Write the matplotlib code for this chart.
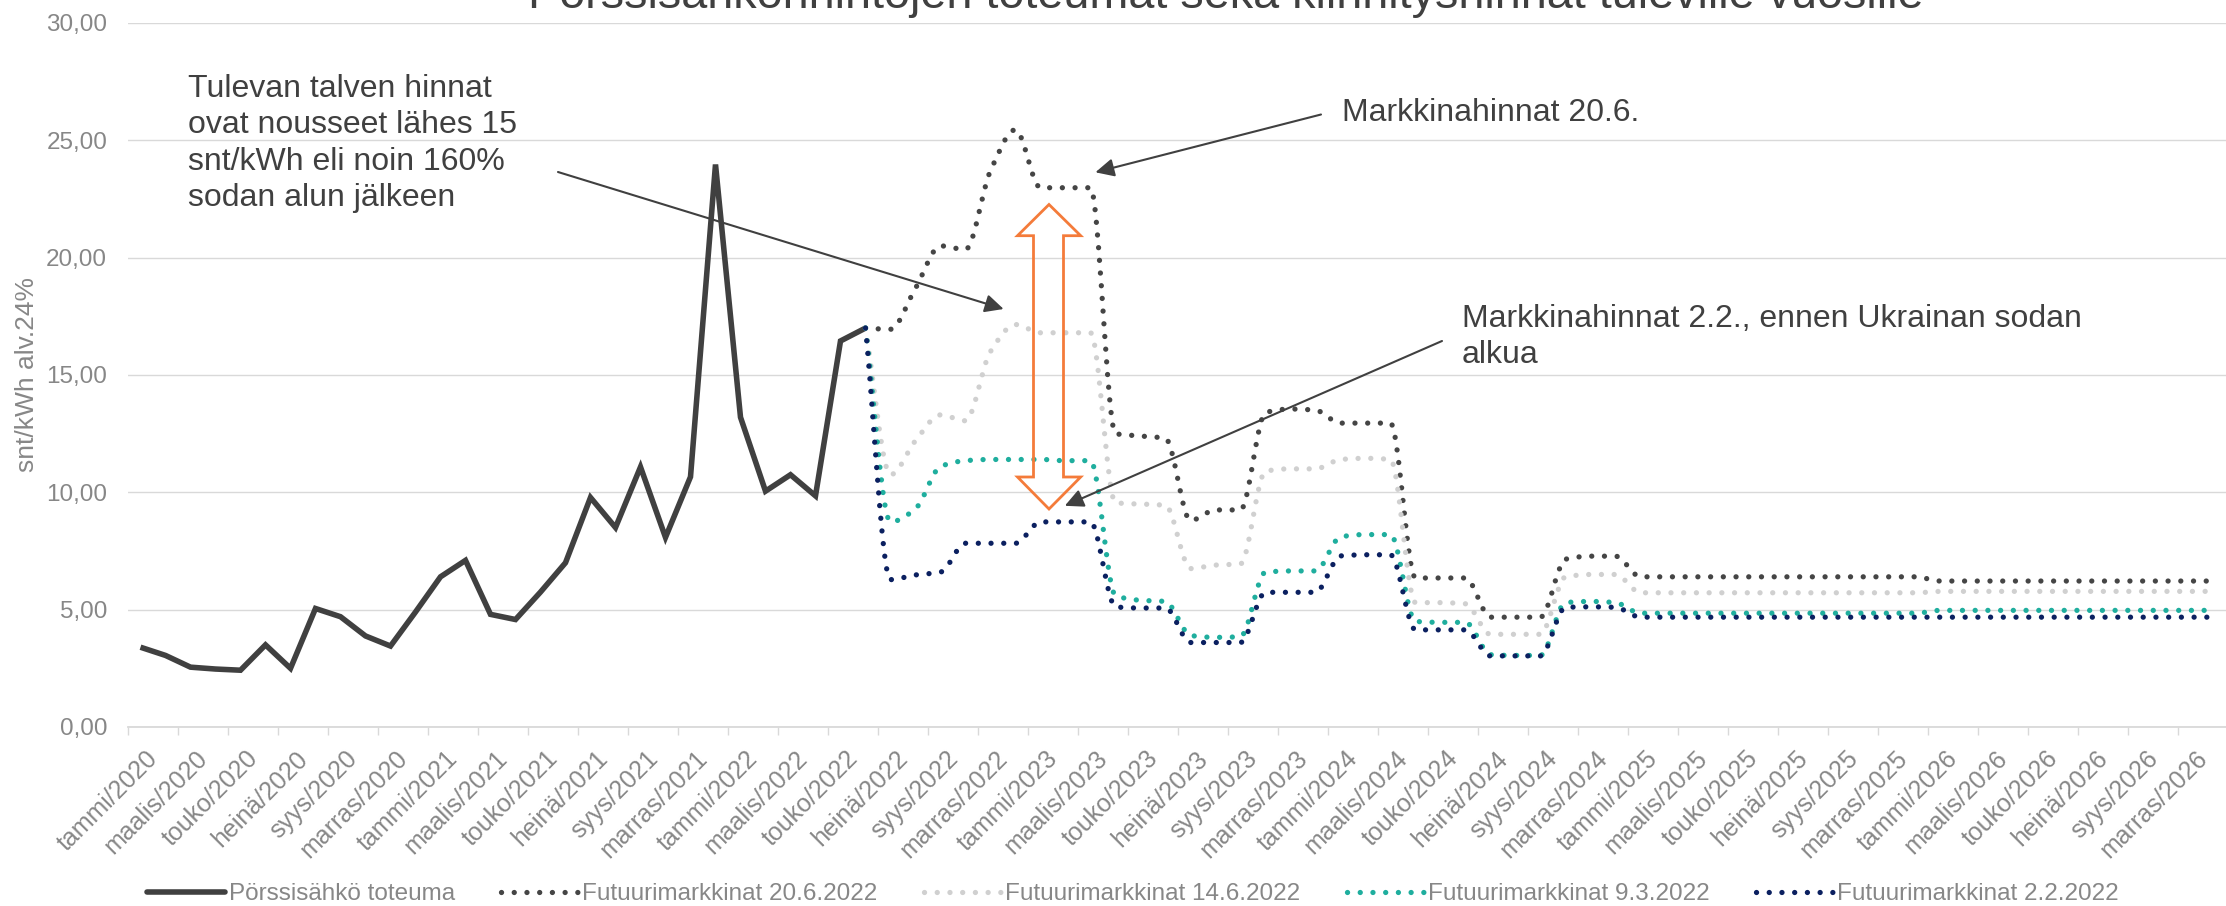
import numpy as np
import matplotlib
matplotlib.use("Agg")
import matplotlib.pyplot as plt
from matplotlib.path import Path
from matplotlib.patches import PathPatch, Polygon
from matplotlib.lines import Line2D
from matplotlib.transforms import ScaledTranslation

plt.rcParams['font.family'] = ['Liberation Sans', 'DejaVu Sans']

# ---------------- data ----------------
month_names = ["tammi", "helmi", "maalis", "huhti", "touko", "kesä",
               "heinä", "elo", "syys", "loka", "marras", "joulu"]
years = [2020, 2021, 2022, 2023, 2024, 2025, 2026]
categories = [f"{m}/{y}" for y in years for m in month_names]

# Pörssisähkö toteuma, tammi/2020 .. kesä/2022
toteuma = [3.40, 3.05, 2.55, 2.47, 2.42, 3.50, 2.50, 5.05, 4.70, 3.88, 3.45, 4.90,
           6.40, 7.10, 4.80, 4.58, 5.75, 7.00, 9.78, 8.50, 11.08, 8.08, 10.66, 23.97,
           13.20, 10.05, 10.75, 9.85, 16.45, 17.00]

# Futuurit, kesä/2022 .. joulu/2026
futures_start = "kesä/2022"
fut_20_6 = [17.00, 16.95, 18.70, 20.50, 20.35, 23.70, 25.45,
            22.98, 22.98, 22.98, 12.50, 12.40, 12.30, 8.80, 9.25, 9.25, 13.40, 13.55, 13.50,
            12.95, 12.95, 12.95, 6.35, 6.35, 6.35, 4.68, 4.68, 4.68, 7.15, 7.28, 7.28,
            6.40, 6.40, 6.40, 6.40, 6.40, 6.40, 6.40, 6.40, 6.40, 6.40, 6.40, 6.40,
            6.22, 6.22, 6.22, 6.22, 6.22, 6.22, 6.22, 6.22, 6.22, 6.22, 6.22, 6.22]
fut_14_6 = [17.00, 10.75, 12.20, 13.30, 13.05, 16.00, 17.15,
            16.80, 16.80, 16.80, 9.55, 9.50, 9.45, 6.75, 6.90, 6.95, 10.90, 11.00, 11.00,
            11.40, 11.45, 11.40, 5.30, 5.30, 5.25, 3.95, 3.95, 3.95, 6.40, 6.50, 6.50,
            5.72, 5.72, 5.72, 5.72, 5.72, 5.72, 5.72, 5.72, 5.72, 5.72, 5.72, 5.72,
            5.78, 5.78, 5.78, 5.78, 5.78, 5.78, 5.78, 5.78, 5.78, 5.78, 5.78, 5.78]
fut_9_3 = [17.00, 8.74, 9.30, 11.10, 11.35, 11.40, 11.40,
           11.40, 11.35, 11.35, 5.60, 5.40, 5.35, 3.90, 3.82, 3.85, 6.60, 6.65, 6.65,
           8.10, 8.20, 8.20, 4.50, 4.46, 4.46, 3.08, 3.05, 3.05, 5.30, 5.35, 5.30,
           4.85, 4.85, 4.85, 4.85, 4.85, 4.85, 4.85, 4.85, 4.85, 4.85, 4.85, 4.85,
           4.97, 4.97, 4.97, 4.97, 4.97, 4.97, 4.97, 4.97, 4.97, 4.97, 4.97, 4.97]
fut_2_2 = [17.00, 6.28, 6.48, 6.60, 7.83, 7.83, 7.83,
           8.74, 8.74, 8.74, 5.12, 5.07, 5.07, 3.60, 3.60, 3.60, 5.74, 5.74, 5.74,
           7.29, 7.34, 7.34, 4.14, 4.14, 4.14, 3.03, 3.03, 3.03, 5.10, 5.12, 5.10,
           4.68, 4.68, 4.68, 4.68, 4.68, 4.68, 4.68, 4.68, 4.68, 4.68, 4.68, 4.68,
           4.68, 4.68, 4.68, 4.68, 4.68, 4.68, 4.68, 4.68, 4.68, 4.68, 4.68, 4.68]

series_names = ["Pörssisähkö toteuma", "Futuurimarkkinat 20.6.2022",
                "Futuurimarkkinat 14.6.2022", "Futuurimarkkinat 9.3.2022",
                "Futuurimarkkinat 2.2.2022"]
yticks = [0, 5, 10, 15, 20, 25, 30]

title = "Pörssisähkönhintojen toteumat sekä kiinnityshinnat tuleville vuosille"

# ---------------- styling ----------------
W, H = 2226, 906
DARK = '#404040'
GREY_TXT = '#878787'
GRID = '#d9d9d9'
colors = ['#404040', '#454545', '#d0d0d0', '#1fae9e', '#0b2060']
DOT = (0, (0.01, 2.4))
DOT_LW = 3.8


def P(x, y):
    """pixel (top-left origin) -> figure fraction"""
    return (x / W, 1 - y / H)


def smooth_path(xs, ys):
    xs = np.asarray(xs, float)
    ys = np.asarray(ys, float)
    n = len(xs)
    d = np.diff(ys) / np.diff(xs)
    m = np.zeros(n)
    m[0] = d[0]
    m[-1] = d[-1]
    for k in range(1, n - 1):
        if d[k - 1] * d[k] <= 0:
            m[k] = 0.0
        else:
            m[k] = 2.0 / (1.0 / d[k - 1] + 1.0 / d[k])
    verts = [(xs[0], ys[0])]
    codes = [Path.MOVETO]
    for k in range(n - 1):
        h = xs[k + 1] - xs[k]
        verts += [(xs[k] + h / 3, ys[k] + m[k] * h / 3),
                  (xs[k + 1] - h / 3, ys[k + 1] - m[k + 1] * h / 3),
                  (xs[k + 1], ys[k + 1])]
        codes += [Path.CURVE4] * 3
    return Path(verts, codes)


fig = plt.figure(figsize=(W / 100, H / 100), dpi=100)
ax = fig.add_axes([128 / W, (H - 727) / H, 2100 / W, 704 / H])

x_all = np.arange(len(categories))
ax.set_xlim(-0.5, len(categories) - 0.5)
ax.set_ylim(0, 30)

# actual prices
ax.plot(x_all[:len(toteuma)], toteuma, color=colors[0], lw=4.0,
        solid_joinstyle='miter', solid_capstyle='butt', zorder=3)

# futures (smoothed dotted lines)
i0 = categories.index(futures_start)
for k, fut in enumerate([fut_20_6, fut_14_6, fut_9_3, fut_2_2]):
    xs = x_all[i0:i0 + len(fut)]
    path = smooth_path(xs, fut)
    patch = PathPatch(path, facecolor='none', edgecolor=colors[k + 1], lw=DOT_LW,
                      linestyle=DOT, capstyle='round', joinstyle='round',
                      zorder=4 + k)
    ax.add_patch(patch)

# axes styling
for s in ['top', 'right', 'left']:
    ax.spines[s].set_visible(False)
ax.spines['bottom'].set_color(GRID)
ax.spines['bottom'].set_linewidth(1.3)
ax.yaxis.grid(True, color=GRID, lw=1.0)
ax.set_axisbelow(True)

ax.set_yticks(yticks)
ax.set_yticklabels([f"{v:.2f}".replace('.', ',') for v in yticks])
ax.tick_params(axis='y', length=0, pad=15, labelsize=17.5, labelcolor=GREY_TXT)

ax.set_xticks(x_all[::2])
ax.set_xticklabels(categories[::2], rotation=45, ha='right', va='top',
                   rotation_mode='anchor')
ax.set_xticks(x_all[::2] - 0.5, minor=True)
ax.tick_params(axis='x', which='major', length=0, pad=14, labelsize=18,
               labelcolor=GREY_TXT)
ax.tick_params(axis='x', which='minor', length=5.5, width=1.0, color=GRID)
shift = ScaledTranslation(5 / 100, 0, fig.dpi_scale_trans)
for lab in ax.get_xticklabels():
    lab.set_transform(lab.get_transform() + shift)

fig.text(27 / W, 1 - 375 / H, "snt/kWh alv.24%", rotation=90, ha='center',
         va='center', fontsize=19, color=GREY_TXT)

# title (partly outside the top of the figure)
fig.text(1226 / W, 1 - 7.5 / H, title, ha='center', va='baseline',
         fontsize=33.7, color=DARK)

# legend
handles = [Line2D([], [], color=colors[0], lw=4.0, solid_capstyle='round')]
for k in range(1, 5):
    handles.append(Line2D([], [], color=colors[k], lw=DOT_LW, linestyle=DOT,
                          dash_capstyle='round'))
fig.legend(handles, series_names, loc='center', ncol=5, frameon=False,
           bbox_to_anchor=(1133 / W, 1 - 894 / H), bbox_transform=fig.transFigure,
           fontsize=17.5, labelcolor=GREY_TXT, handlelength=3.2,
           handletextpad=0.15, columnspacing=1.9)

# annotations
arrow_kw = dict(arrowstyle='-|>,head_length=0.45,head_width=0.22', color=DARK,
                lw=1.5, mutation_scale=25, shrinkA=0, shrinkB=0)
fig.text(187.5 / W, 1 - 74 / H,
         "Tulevan talven hinnat\novat nousseet lähes 15\nsnt/kWh eli noin 160%\nsodan alun jälkeen",
         ha='left', va='top', fontsize=23, color=DARK, linespacing=1.28)
ax.annotate('', xy=P(1003.6, 309), xytext=P(558, 172), xycoords='figure fraction',
            textcoords='figure fraction', arrowprops=arrow_kw, zorder=10)

fig.text(1342 / W, 1 - 121 / H, "Markkinahinnat 20.6.", ha='left', va='baseline',
         fontsize=23, color=DARK)
ax.annotate('', xy=P(1095.4, 172.3), xytext=P(1321, 114.5), xycoords='figure fraction',
            textcoords='figure fraction', arrowprops=arrow_kw, zorder=10)

fig.text(1462 / W, 1 - 304 / H, "Markkinahinnat 2.2., ennen Ukrainan sodan\nalkua",
         ha='left', va='top', fontsize=23, color=DARK, linespacing=1.28)
ax.annotate('', xy=P(1064.8, 505.8), xytext=P(1442, 341), xycoords='figure fraction',
            textcoords='figure fraction', arrowprops=arrow_kw, zorder=10)

# orange double arrow (block shape)
cx, xl, xr, sl, sr = 1049, 1017.5, 1080.7, 1033.5, 1063.5
yt, yhb, yhb2, yb = 204.5, 235.7, 477, 509
pts = [P(cx, yt), P(xr, yhb), P(sr, yhb), P(sr, yhb2), P(xr, yhb2), P(cx, yb),
       P(xl, yhb2), P(sl, yhb2), P(sl, yhb), P(xl, yhb)]
fig.patches.append(Polygon(pts, closed=True, transform=fig.transFigure,
                           facecolor='none', edgecolor='#f47b3a', lw=2.0,
                           joinstyle='miter', figure=fig))

fig.savefig("out.png", dpi=100)
